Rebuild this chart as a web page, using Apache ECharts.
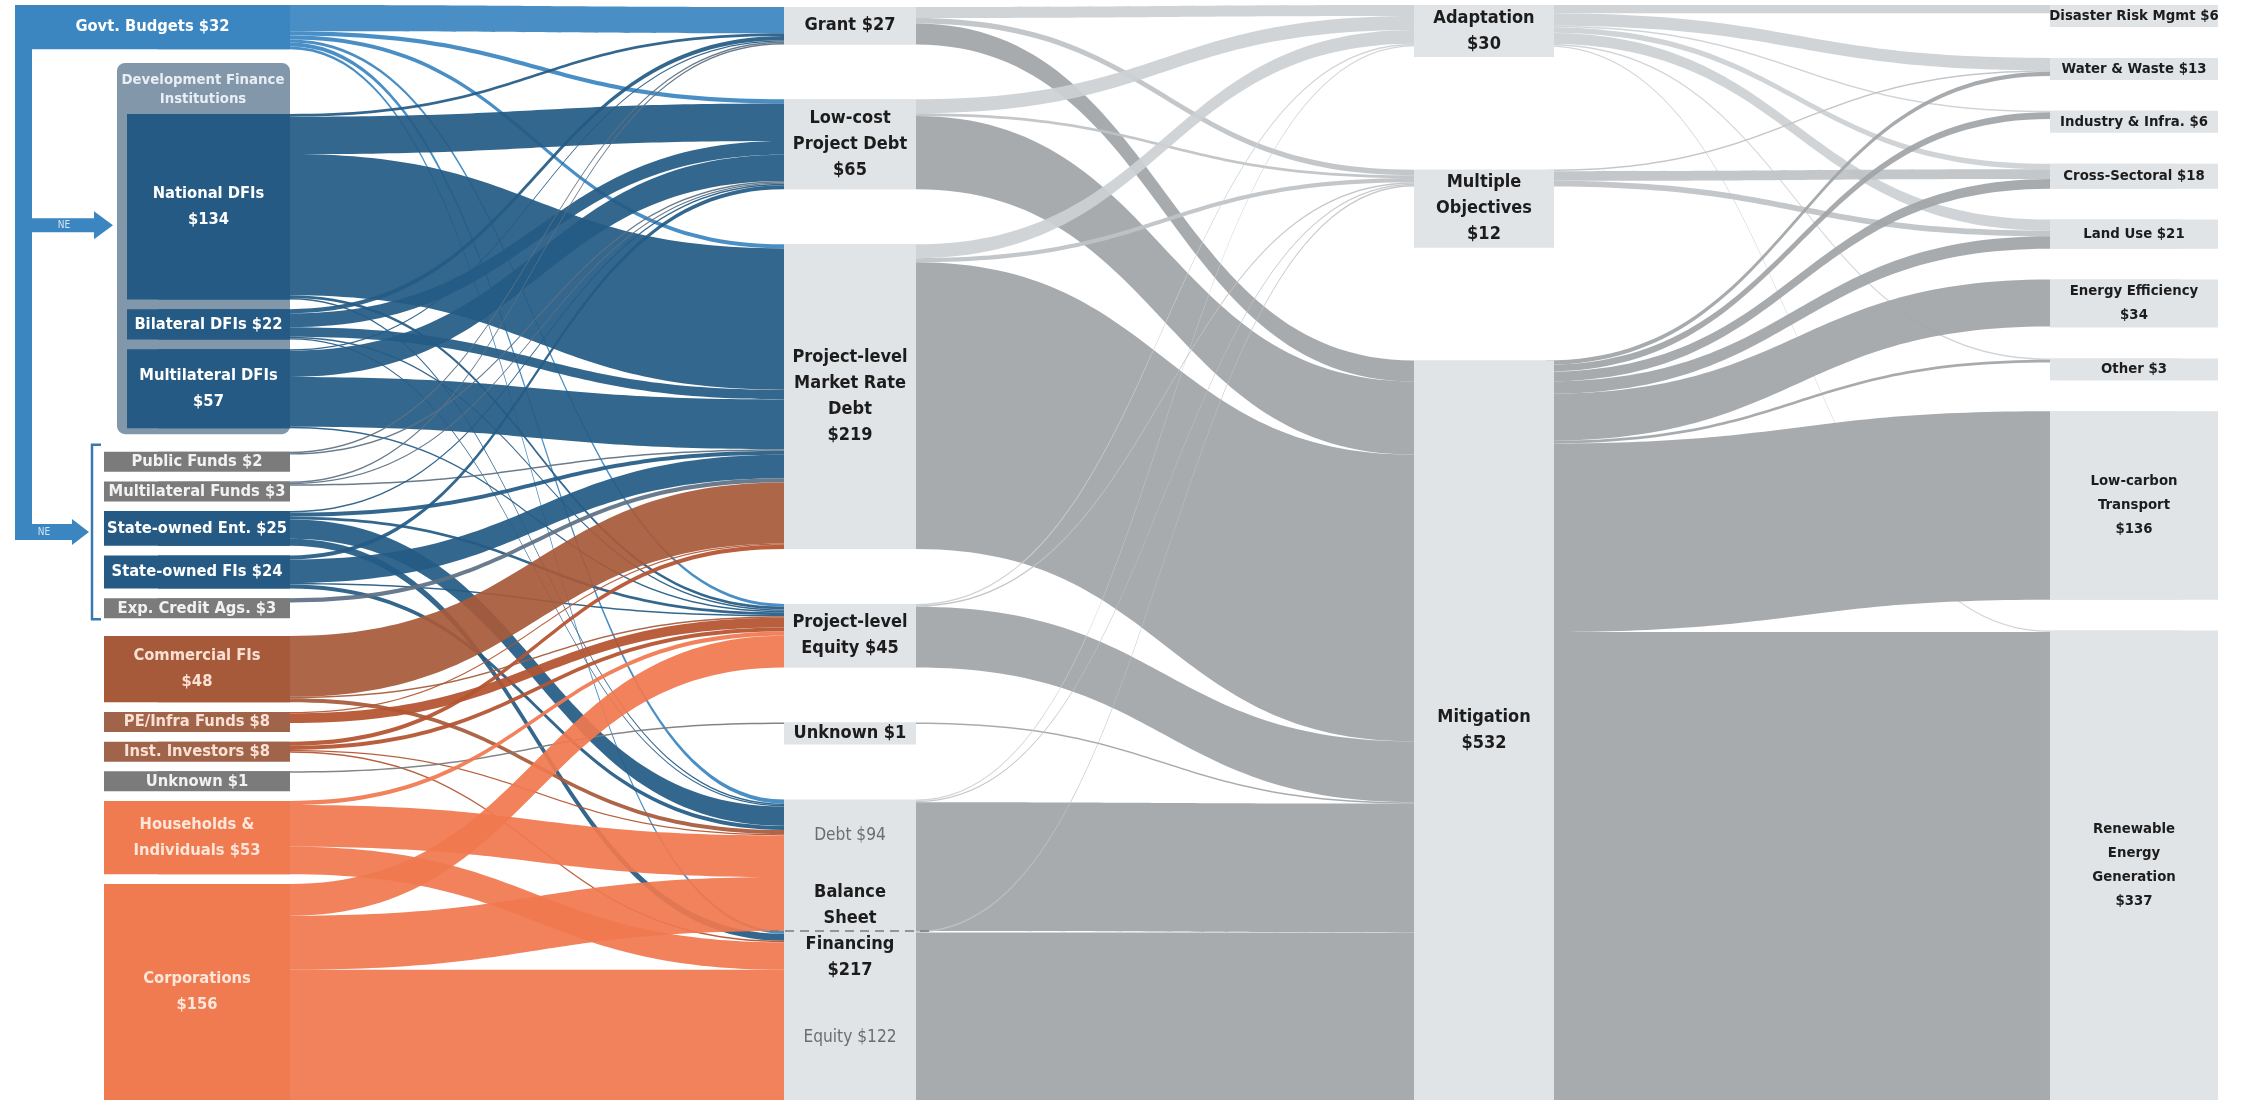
<!DOCTYPE html>
<html>
<head>
<meta charset="utf-8">
<title>Global Landscape of Climate Finance</title>
<script src="https://cdn.jsdelivr.net/npm/echarts@6/dist/echarts.min.js"></script>
<style>
html,body{margin:0;padding:0;background:#ffffff;}
#chart{width:2244px;height:1100px;}
</style>
</head>
<body>
<div id="chart"></div>
<script>
// ================= DATA (USD billions) =================
const sources = ['Govt. Budgets','National DFIs','Bilateral DFIs','Multilateral DFIs','Public Funds','Multilateral Funds','State-owned Ent.','State-owned FIs','Exp. Credit Ags.','Commercial FIs','PE/Infra Funds','Inst. Investors','Unknown','Households & Individuals','Corporations'];
const sourceValues = [32,134,22,57,2,3,25,24,3,48,8,8,1,53,156];
const sourceLabels = ['Govt. Budgets {v}','National DFIs\n{v}','Bilateral DFIs {v}','Multilateral DFIs\n{v}','Public Funds {v}','Multilateral Funds {v}','State-owned Ent. {v}','State-owned FIs {v}','Exp. Credit Ags. {v}','Commercial FIs\n{v}','PE/Infra Funds {v}','Inst. Investors {v}','Unknown {v}','Households &\nIndividuals {v}','Corporations\n{v}'];

const instruments = ['Grant','Low-cost Project Debt','Project-level Market Rate Debt','Project-level Equity','Unknown','Balance Sheet Debt','Balance Sheet Equity'];
const instrumentValues = [27,65,219,45,1,94,122];
const instrumentLabels = ['Grant {v}','Low-cost\nProject Debt\n{v}','Project-level\nMarket Rate\nDebt\n{v}','Project-level\nEquity {v}','Unknown {v}','Debt {v}','Equity {v}'];
const balanceSheetLabel = 'Balance\nSheet\nFinancing\n{v}';
const balanceSheetValue = 217;

const uses = ['Adaptation','Multiple Objectives','Mitigation'];
const useValues = [30,12,532];
const useLabels = ['Adaptation\n{v}','Multiple\nObjectives\n{v}','Mitigation\n{v}'];

const sectors = ['Disaster Risk Mgmt','Water & Waste','Industry & Infra.','Cross-Sectoral','Land Use','Energy Efficiency','Other','Low-carbon Transport','Renewable Energy Generation'];
const sectorValues = [6,13,6,18,21,34,3,136,337];
const sectorLabels = ['Disaster Risk Mgmt {v}','Water & Waste {v}','Industry & Infra. {v}','Cross-Sectoral {v}','Land Use {v}','Energy Efficiency\n{v}','Other {v}','Low-carbon\nTransport\n{v}','Renewable\nEnergy\nGeneration\n{v}'];

// rows: sources; columns: Grant, Low-cost, Market-rate debt, Equity, Unknown, BS Debt, BS Equity
const flowsSourceToInstrument = [
  [19, 3,  3,  2, 0,  3,  2],
  [ 2,27,102,  2, 0,  1,  0],
  [ 3,10,  7,  1, 0,  1,  0],
  [ 1,19, 36,  1, 0,  0,  0],
  [ 1, 1,  0,  0, 0,  0,  0],
  [ 1, 1,  1,  0, 0,  0,  0],
  [ 0, 1,  3,  2, 0, 14,  5],
  [ 0, 3, 17,  1, 0,  3,  0],
  [ 0, 0,  3,  0, 0,  0,  0],
  [ 0, 0, 44,  1, 0,  3,  0],
  [ 0, 0,  1,  7, 0,  0,  0],
  [ 0, 0,  3,  3, 0,  1,  1],
  [ 0, 0,  0,  0, 1,  0,  0],
  [ 0, 0,  0,  3, 0, 30, 20],
  [ 0, 0,  0, 23, 0, 39, 94]
];
// rows: instruments; columns: Adaptation, Multiple Objectives, Mitigation
const flowsInstrumentToUse = [
  [ 8, 4,  15],
  [10, 2,  53],
  [10, 3, 207],
  [ 1, 1,  44],
  [ 0, 0,   1],
  [ 1, 1,  93],
  [ 0, 1, 121]
];
// rows: uses; columns: sectors
const flowsUseToSector = [
  [6, 9, 1, 4, 8,  0, 1,   0,   1],
  [0, 1, 0, 7, 4,  0, 0,   0,   0],
  [0, 3, 5, 7, 9, 34, 2, 136, 338]
];

// ================= STYLE / LAYOUT =================
const W = 2244, H = 1100;
const NODE_W = 132, NODE_GAP = 21.6;
const sourceColors = ['#3b86c1','#245a83','#245a83','#245a83','#7b7b7b','#7b7b7b','#245a83','#245a83','#7b7b7b','#a75a3a','#a0644b','#a0644b','#7b7b7b','#f07b51','#f07b51'];
const sourceTextColors = ['#ffffff','#ffffff','#ffffff','#ffffff','#f2f2f2','#f2f2f2','#ffffff','#ffffff','#f2f2f2','#fbe1d4','#fbe1d4','#fbe1d4','#f2f2f2','#fde6da','#fde6da'];
const sourceLinkColors = ['#3b86c1','#255b85','#255b85','#255b85','#5e7183','#5e7183','#255b85','#255b85','#5e7183','#a75a3a','#b5532f','#b5532f','#7b7b7b','#f07850','#f07850'];
const greyNode = '#e1e4e7';
const useLinkColors = ['#cdd0d3','#bfc2c5','#a1a4a7'];
const LAYOUT = {
  colLeft: [158, 784, 1414, 2050],
  colTop: [5, 7, 5, 5],
  colBottom: 1100,
  box: [[104, 290], [784, 916], [1414, 1554], [2050, 2218]],
  boxOverride: {'Govt. Budgets': [15, 290], 'National DFIs': [127, 290], 'Bilateral DFIs': [127, 290], 'Multilateral DFIs': [127, 290]},
  gapExtra: [{'National DFIs': 55, 'Public Funds': 14, 'Commercial FIs': 8}, {}, {}, {}],
  joined: {'Balance Sheet Equity': true},
  noBox: {'Balance Sheet Debt': true, 'Balance Sheet Equity': true},
  fontSize: [20, 22, 22, 18],
  lineHeight: [26, 26, 26, 24],
  singleBox: [20, 22, 22, 22]
};

// ---- font choice (condensed face if installed) ----
function fontAvailable(name) {
  const ctx = document.createElement('canvas').getContext('2d');
  const s = 'abcdefghijklmnopqrstuvwxyz WMIl0123';
  const m = f => { ctx.font = f; return ctx.measureText(s).width; };
  return m("40px '" + name + "', monospace") !== m('40px monospace') &&
         m("40px '" + name + "', serif") !== m('40px serif');
}
let FONT = "'Liberation Sans', sans-serif", K = 0.78;
if (fontAvailable('Liberation Sans Narrow')) { FONT = "'Liberation Sans Narrow', sans-serif"; K = 1; }
else if (fontAvailable('DejaVu Sans Condensed')) { FONT = "'DejaVu Sans Condensed', sans-serif"; K = 0.82; }
else if (fontAvailable('Roboto Condensed')) { FONT = "'Roboto Condensed', sans-serif"; K = 0.95; }
const fs = v => Math.round(v * K * 10) / 10;

// ---- columns ----
const sum = a => a.reduce((s, v) => s + v, 0);
const colSum = (m, j) => m.reduce((s, r) => s + r[j], 0);
const cols = [
  {keys: sources, prefix: 's', values: sourceValues, labels: sourceLabels,
   flow: sources.map((_, i) => sum(flowsSourceToInstrument[i]))},
  {keys: instruments, prefix: 'i', values: instrumentValues, labels: instrumentLabels,
   flow: instruments.map((_, j) => Math.max(colSum(flowsSourceToInstrument, j), sum(flowsInstrumentToUse[j])))},
  {keys: uses, prefix: 'u', values: useValues, labels: useLabels,
   flow: uses.map((_, j) => Math.max(colSum(flowsInstrumentToUse, j), sum(flowsUseToSector[j])))},
  {keys: sectors, prefix: 'e', values: sectorValues, labels: sectorLabels,
   flow: sectors.map((_, j) => colSum(flowsUseToSector, j))}
];
const ky = Math.min(...cols.map(c => (H - (c.keys.length - 1) * NODE_GAP) / sum(c.flow)));
const nodeId = (ci, k) => cols[ci].prefix + ':' + k;

cols.forEach((c, ci) => {
  c.barH = c.flow.map(v => v * ky);
  c.text = c.labels.map((t, i) => t.replace('{v}', '$' + c.values[i]));
  c.lines = c.text.map(t => t.split('\n').length);
  c.boxH = c.barH.map((h, i) => {
    if (LAYOUT.noBox[c.keys[i]]) return h;
    const th = c.lines[i] === 1 ? LAYOUT.singleBox[ci] : c.lines[i] * LAYOUT.lineHeight[ci];
    return Math.max(h, th);
  });
  const n = c.keys.length;
  let extra = 0, nGaps = 0;
  for (let i = 1; i < n; i++) {
    if (LAYOUT.joined[c.keys[i]]) continue;
    nGaps++; extra += (LAYOUT.gapExtra[ci][c.keys[i]] || 0);
  }
  const gap = (LAYOUT.colBottom - LAYOUT.colTop[ci] - sum(c.boxH) - extra) / nGaps;
  c.top = [];
  let y = LAYOUT.colTop[ci];
  for (let i = 0; i < n; i++) {
    if (i > 0 && !LAYOUT.joined[c.keys[i]]) y += gap + (LAYOUT.gapExtra[ci][c.keys[i]] || 0);
    c.top.push(y);
    y += c.boxH[i];
  }
});

// ---- nodes ----
const labelText = {};
const nodes = [];
cols.forEach((c, ci) => {
  c.keys.forEach((k, i) => {
    const id = nodeId(ci, k);
    const span = (ci === 0 && LAYOUT.boxOverride[k]) || LAYOUT.box[ci];
    const boxW = span[1] - span[0];
    const cx = (span[0] + span[1]) / 2 - LAYOUT.colLeft[ci];
    const lines = c.lines[i];
    const lh = lines === 1 ? LAYOUT.singleBox[ci] : LAYOUT.lineHeight[ci];
    const pad = Math.max(0, (c.boxH[i] - lines * lh) / 2);
    let label = {
      show: true, position: [cx, 0], align: 'center', verticalAlign: 'top', distance: 0,
      width: boxW, padding: [pad, 0, pad, 0], overflow: 'none',
      backgroundColor: ci === 0 ? sourceColors[i] : greyNode,
      color: ci === 0 ? sourceTextColors[i] : '#1c1c1c',
      fontFamily: FONT, fontSize: fs(LAYOUT.fontSize[ci]), fontWeight: 'bold', lineHeight: lh,
      textBorderWidth: 0
    };
    labelText[id] = c.text[i];
    if (k === 'Balance Sheet Debt') {
      const mainLines = balanceSheetLabel.replace('{v}', '$' + balanceSheetValue).split('\n');
      const spH = Math.max(4, c.barH[i] - 25 - 22 - mainLines.length * 26 / 2);
      labelText[id] = '{d|' + c.text[i] + '}\n{sp| }\n' + mainLines.map(s => '{m|' + s + '}').join('\n');
      label = {
        show: true, position: [NODE_W / 2, 25], align: 'center', verticalAlign: 'top', distance: 0,
        fontFamily: FONT, textBorderWidth: 0,
        rich: {
          d: {fontFamily: FONT, fontSize: fs(21), color: '#6d6d6d', lineHeight: 22, fontWeight: 'normal'},
          sp: {fontSize: 2, lineHeight: spH},
          m: {fontFamily: FONT, fontSize: fs(22), color: '#1c1c1c', lineHeight: 26, fontWeight: 'bold'}
        }
      };
    } else if (k === 'Balance Sheet Equity') {
      label = {
        show: true, position: ['50%', '63%'], align: 'center', verticalAlign: 'middle', distance: 0,
        fontFamily: FONT, fontSize: fs(21), color: '#6d6d6d', fontWeight: 'normal', textBorderWidth: 0
      };
    }
    nodes.push({
      name: id,
      localX: LAYOUT.colLeft[ci] / W,
      localY: c.top[i] / H,
      itemStyle: {color: ci === 0 ? sourceColors[i] : greyNode, borderWidth: 0},
      label: label
    });
  });
});

// ---- links ----
const links = [];
flowsSourceToInstrument.forEach((row, i) => row.forEach((v, j) => {
  if (v > 0) links.push({source: nodeId(0, sources[i]), target: nodeId(1, instruments[j]), value: v,
    lineStyle: {color: sourceLinkColors[i], opacity: 0.93}});
}));
flowsInstrumentToUse.forEach((row, i) => row.forEach((v, j) => {
  if (v > 0) links.push({source: nodeId(1, instruments[i]), target: nodeId(2, uses[j]), value: v,
    lineStyle: {color: useLinkColors[j], opacity: 0.92}});
}));
flowsUseToSector.forEach((row, i) => row.forEach((v, j) => {
  if (v > 0) links.push({source: nodeId(2, uses[i]), target: nodeId(3, sectors[j]), value: v,
    lineStyle: {color: useLinkColors[i], opacity: 0.92}});
}));

// ---- decorations (derived from computed layout) ----
const c0 = cols[0];
const idx = k => sources.indexOf(k);
const govtColor = sourceColors[0];
const govtTop = c0.top[0];
const natTop = c0.top[idx('National DFIs')];
const natH = c0.boxH[idx('National DFIs')];
const dfiTop = natTop - 51;
const dfiBottom = c0.top[idx('Multilateral DFIs')] + c0.boxH[idx('Multilateral DFIs')] + 6;
const brTop = c0.top[idx('Public Funds')] - 7;
const brBot = c0.top[idx('Exp. Credit Ags.')] + c0.boxH[idx('Exp. Credit Ags.')] + 1;
const ua = natTop + natH * 0.6;
const la = (brTop + brBot) / 2;
const bsIdx = instruments.indexOf('Balance Sheet Equity');
const bsLine = cols[1].top[bsIdx];

const graphic = [
  {type: 'rect', shape: {x: 117, y: dfiTop, width: 173, height: dfiBottom - dfiTop, r: 8}, style: {fill: '#8397ab'}, silent: true},
  {type: 'text', x: 203, y: (dfiTop + natTop) / 2 + 1, silent: true,
   style: {text: 'Development Finance\nInstitutions', fill: '#e8eef4', font: 'bold ' + fs(18) + 'px ' + FONT,
           align: 'center', verticalAlign: 'middle', lineHeight: 19}},
  {type: 'rect', shape: {x: 15, y: govtTop, width: 17, height: la + 8 - govtTop}, style: {fill: govtColor}, silent: true},
  {type: 'rect', shape: {x: 32, y: ua - 7, width: 62, height: 14}, style: {fill: govtColor}, silent: true},
  {type: 'polygon', shape: {points: [[94, ua - 14], [113, ua], [94, ua + 14]]}, style: {fill: govtColor}, silent: true},
  {type: 'text', x: 64, y: ua, silent: true, style: {text: 'NE', fill: '#d4e6f5', font: 'normal 10px ' + FONT, align: 'center', verticalAlign: 'middle'}},
  {type: 'rect', shape: {x: 15, y: la - 8, width: 57, height: 16}, style: {fill: govtColor}, silent: true},
  {type: 'polygon', shape: {points: [[72, la - 13], [89, la], [72, la + 13]]}, style: {fill: govtColor}, silent: true},
  {type: 'text', x: 44, y: la, silent: true, style: {text: 'NE', fill: '#d4e6f5', font: 'normal 10px ' + FONT, align: 'center', verticalAlign: 'middle'}},
  {type: 'polyline', shape: {points: [[101, brTop], [92, brTop], [92, brBot], [101, brBot]]}, style: {stroke: '#3a79ad', lineWidth: 2.5, fill: null}, silent: true},
  {type: 'line', z: 100, shape: {x1: 770, y1: bsLine, x2: 930, y2: bsLine}, style: {stroke: '#7a7a7a', lineWidth: 1.5, lineDash: [9, 6]}, silent: true}
];

const chart = echarts.init(document.getElementById('chart'), null, {renderer: 'canvas'});
chart.setOption({
  animation: false,
  backgroundColor: '#ffffff',
  graphic: graphic,
  series: [{
    type: 'sankey',
    left: 0, top: 0, right: 0, bottom: 0,
    nodeWidth: NODE_W,
    nodeGap: NODE_GAP,
    layoutIterations: 0,
    draggable: false,
    emphasis: {disabled: true},
    lineStyle: {curveness: 0.5},
    label: {formatter: p => labelText[p.name]},
    data: nodes,
    links: links
  }]
});
</script>
</body>
</html>
